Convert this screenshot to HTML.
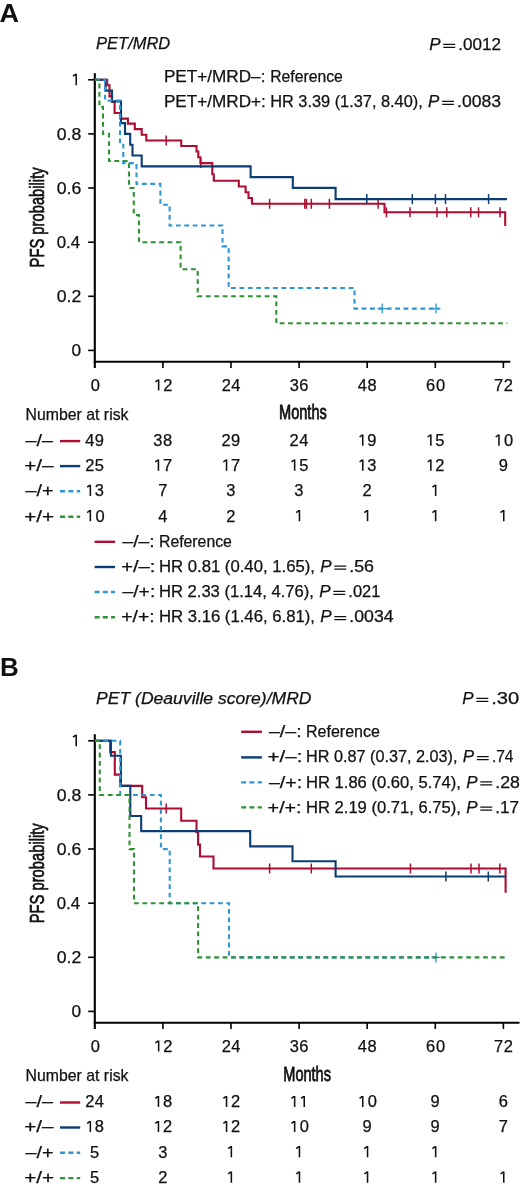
<!DOCTYPE html>
<html><head><meta charset="utf-8"><title>PFS Kaplan-Meier</title>
<style>html,body{margin:0;padding:0;background:#fff;width:520px;height:1187px;overflow:hidden}svg{display:block;will-change:transform}</style>
</head><body>
<svg width="520" height="1187" viewBox="0 0 520 1187" font-family='"Liberation Sans", sans-serif' fill="#111">
<rect width="520" height="1187" fill="#fff"/>
<path d="M443.30,44.30 H455.20 M443.30,47.30 H455.20" stroke="#111" stroke-width="1.25"/>
<path d="M442.10,101.30 H454.00 M442.10,104.30 H454.00" stroke="#111" stroke-width="1.25"/>
<path d="M94.8,73.3 V368.0" stroke="#000" stroke-width="2.1"/>
<path d="M93.8,361.8 H510.3" stroke="#000" stroke-width="2.1"/>
<path d="M88.2,350.4 H94" stroke="#000" stroke-width="1.6"/>
<path d="M88.2,296.3 H94" stroke="#000" stroke-width="1.6"/>
<path d="M88.2,242.2 H94" stroke="#000" stroke-width="1.6"/>
<path d="M88.2,188.0 H94" stroke="#000" stroke-width="1.6"/>
<path d="M88.2,133.9 H94" stroke="#000" stroke-width="1.6"/>
<path d="M88.2,79.8 H94" stroke="#000" stroke-width="1.6"/>
<path d="M76.20,73.70 V85.30 M73.00,76.20 L75.80,74.10" fill="none" stroke="#111" stroke-width="1.55"/>
<path d="M162.9,361.8 V368.0" stroke="#000" stroke-width="1.6"/>
<path d="M158.65,379.40 V390.60 M155.45,381.90 L158.25,379.80" fill="none" stroke="#111" stroke-width="1.55"/>
<path d="M231.0,361.8 V368.0" stroke="#000" stroke-width="1.6"/>
<path d="M299.1,361.8 V368.0" stroke="#000" stroke-width="1.6"/>
<path d="M367.2,361.8 V368.0" stroke="#000" stroke-width="1.6"/>
<path d="M435.3,361.8 V368.0" stroke="#000" stroke-width="1.6"/>
<path d="M503.4,361.8 V368.0" stroke="#000" stroke-width="1.6"/>
<path d="M94.8,79.8 H107.2 V85.3 H109.5 V96.4 H112.0 V101.9 H114.6 V113.0 H120.4 V118.6 H127.9 V123.6 H134.8 V129.1 H141.7 V134.8 H146.3 V140.5 H181.2 V146.0 H196.5 V151.5 H198.3 V157.3 H200.4 V163.1 H212.3 V174.2 H213.8 V180.8 H238.8 V186.5 H245.6 V192.3 H248.5 V198.0 H252.0 V203.8 H384.5 V212.3 H505.2 V226.0" fill="none" stroke="#ad0d31" stroke-width="2.1"/>
<path d="M166.2,135.5 V145.5" stroke="#ad0d31" stroke-width="1.5"/>
<path d="M200.8,158.1 V168.1" stroke="#ad0d31" stroke-width="1.5"/>
<path d="M269.6,198.8 V208.8" stroke="#ad0d31" stroke-width="1.5"/>
<path d="M304.8,198.8 V208.8" stroke="#ad0d31" stroke-width="1.5"/>
<path d="M306.4,198.8 V208.8" stroke="#ad0d31" stroke-width="1.5"/>
<path d="M311.3,198.8 V208.8" stroke="#ad0d31" stroke-width="1.5"/>
<path d="M329.4,198.8 V208.8" stroke="#ad0d31" stroke-width="1.5"/>
<path d="M378.1,198.8 V208.8" stroke="#ad0d31" stroke-width="1.5"/>
<path d="M386.4,207.3 V217.3" stroke="#ad0d31" stroke-width="1.5"/>
<path d="M410.0,207.3 V217.3" stroke="#ad0d31" stroke-width="1.5"/>
<path d="M437.0,207.3 V217.3" stroke="#ad0d31" stroke-width="1.5"/>
<path d="M446.8,207.3 V217.3" stroke="#ad0d31" stroke-width="1.5"/>
<path d="M470.8,207.3 V217.3" stroke="#ad0d31" stroke-width="1.5"/>
<path d="M478.5,207.3 V217.3" stroke="#ad0d31" stroke-width="1.5"/>
<path d="M500.0,207.3 V217.3" stroke="#ad0d31" stroke-width="1.5"/>
<path d="M94.8,79.8 H105.5 V90.6 H112.0 V101.4 H121.0 V123.1 H125.0 V133.9 H130.2 V144.7 H132.5 V155.5 H141.7 V166.4 H250.6 V177.1 H292.8 V187.9 H335.6 V199.1 H507.0" fill="none" stroke="#0b3c73" stroke-width="2.1"/>
<path d="M366.8,194.1 V204.1" stroke="#0b3c73" stroke-width="1.5"/>
<path d="M412.3,194.1 V204.1" stroke="#0b3c73" stroke-width="1.5"/>
<path d="M435.4,194.1 V204.1" stroke="#0b3c73" stroke-width="1.5"/>
<path d="M445.5,194.1 V204.1" stroke="#0b3c73" stroke-width="1.5"/>
<path d="M488.6,194.1 V204.1" stroke="#0b3c73" stroke-width="1.5"/>
<path d="M94.8,79.8 H105.0 V100.6 H120.0 V142.3 H123.3 V163.1 H136.5 V183.9 H160.4 V204.7 H169.6 V225.5 H222.5 V246.4 H228.7 V288.0 H354.5 V308.6 H439.6" fill="none" stroke="#2f96d4" stroke-width="2.1" stroke-dasharray="4.8 3.6"/>
<path d="M382.2,303.6 V313.6 M377.7,308.6 H386.7" stroke="#2f96d4" stroke-width="1.3"/>
<path d="M436.0,303.6 V313.6 M431.5,308.6 H440.5" stroke="#2f96d4" stroke-width="1.3"/>
<path d="M94.8,79.8 H99.4 V106.9 H103.0 V133.9 H109.0 V161.0 H129.0 V188.0 H133.8 V215.1 H139.0 V242.2 H180.6 V269.2 H197.7 V296.3 H276.3 V323.3 H507.2" fill="none" stroke="#2e9236" stroke-width="2.1" stroke-dasharray="4.8 3.6"/>
<path d="M60,441.1 H80.2" stroke="#ad0d31" stroke-width="2.4"/>
<path d="M362.75,434.50 V445.70 M359.55,437.00 L362.35,434.90" fill="none" stroke="#111" stroke-width="1.55"/>
<path d="M430.85,434.50 V445.70 M427.65,437.00 L430.45,434.90" fill="none" stroke="#111" stroke-width="1.55"/>
<path d="M498.95,434.50 V445.70 M495.75,437.00 L498.55,434.90" fill="none" stroke="#111" stroke-width="1.55"/>
<path d="M60,466.1 H80.2" stroke="#0b3c73" stroke-width="2.4"/>
<path d="M158.45,459.50 V470.70 M155.25,462.00 L158.05,459.90" fill="none" stroke="#111" stroke-width="1.55"/>
<path d="M226.55,459.50 V470.70 M223.35,462.00 L226.15,459.90" fill="none" stroke="#111" stroke-width="1.55"/>
<path d="M294.65,459.50 V470.70 M291.45,462.00 L294.25,459.90" fill="none" stroke="#111" stroke-width="1.55"/>
<path d="M362.75,459.50 V470.70 M359.55,462.00 L362.35,459.90" fill="none" stroke="#111" stroke-width="1.55"/>
<path d="M430.85,459.50 V470.70 M427.65,462.00 L430.45,459.90" fill="none" stroke="#111" stroke-width="1.55"/>
<path d="M60,491.3 H80.2" stroke="#2f96d4" stroke-width="2.4" stroke-dasharray="5 3.4"/>
<path d="M90.35,484.70 V495.90 M87.15,487.20 L89.95,485.10" fill="none" stroke="#111" stroke-width="1.55"/>
<path d="M435.65,484.70 V495.90 M432.45,487.20 L435.25,485.10" fill="none" stroke="#111" stroke-width="1.55"/>
<path d="M60,516.7 H80.2" stroke="#2e9236" stroke-width="2.4" stroke-dasharray="5 3.4"/>
<path d="M90.35,510.10 V521.30 M87.15,512.60 L89.95,510.50" fill="none" stroke="#111" stroke-width="1.55"/>
<path d="M299.45,510.10 V521.30 M296.25,512.60 L299.05,510.50" fill="none" stroke="#111" stroke-width="1.55"/>
<path d="M367.55,510.10 V521.30 M364.35,512.60 L367.15,510.50" fill="none" stroke="#111" stroke-width="1.55"/>
<path d="M435.65,510.10 V521.30 M432.45,512.60 L435.25,510.50" fill="none" stroke="#111" stroke-width="1.55"/>
<path d="M503.75,510.10 V521.30 M500.55,512.60 L503.35,510.50" fill="none" stroke="#111" stroke-width="1.55"/>
<path d="M94.6,541.8 H115" stroke="#ad0d31" stroke-width="2.4"/>
<path d="M94.6,567.0 H115" stroke="#0b3c73" stroke-width="2.4"/>
<path d="M334.30,566.10 H346.20 M334.30,569.10 H346.20" stroke="#111" stroke-width="1.25"/>
<path d="M94.6,592.0 H115" stroke="#2f96d4" stroke-width="2.4" stroke-dasharray="5 3.2"/>
<path d="M333.30,591.30 H345.20 M333.30,594.30 H345.20" stroke="#111" stroke-width="1.25"/>
<path d="M94.6,617.3 H115" stroke="#2e9236" stroke-width="2.4" stroke-dasharray="5 3.2"/>
<path d="M334.30,616.60 H346.20 M334.30,619.60 H346.20" stroke="#111" stroke-width="1.25"/>
<path d="M476.40,698.30 H488.30 M476.40,701.30 H488.30" stroke="#111" stroke-width="1.25"/>
<path d="M241.2,731.8 H261.9" stroke="#ad0d31" stroke-width="2.4"/>
<path d="M241.2,757.4 H261.9" stroke="#0b3c73" stroke-width="2.4"/>
<path d="M476.80,756.60 H488.70 M476.80,759.60 H488.70" stroke="#111" stroke-width="1.25"/>
<path d="M241.2,782.4 H261.9" stroke="#2f96d4" stroke-width="2.4" stroke-dasharray="5 3.2"/>
<path d="M480.30,781.90 H492.20 M480.30,784.90 H492.20" stroke="#111" stroke-width="1.25"/>
<path d="M241.2,807.4 H261.9" stroke="#2e9236" stroke-width="2.4" stroke-dasharray="5 3.2"/>
<path d="M480.30,807.20 H492.20 M480.30,810.20 H492.20" stroke="#111" stroke-width="1.25"/>
<path d="M94.8,734.3 V1029.0" stroke="#000" stroke-width="2.1"/>
<path d="M93.8,1022.8 H519.5" stroke="#000" stroke-width="2.1"/>
<path d="M88.2,1011.4 H94" stroke="#000" stroke-width="1.6"/>
<path d="M88.2,957.3 H94" stroke="#000" stroke-width="1.6"/>
<path d="M88.2,903.2 H94" stroke="#000" stroke-width="1.6"/>
<path d="M88.2,849.0 H94" stroke="#000" stroke-width="1.6"/>
<path d="M88.2,794.9 H94" stroke="#000" stroke-width="1.6"/>
<path d="M88.2,740.8 H94" stroke="#000" stroke-width="1.6"/>
<path d="M76.20,734.70 V746.30 M73.00,737.20 L75.80,735.10" fill="none" stroke="#111" stroke-width="1.55"/>
<path d="M162.9,1022.8 V1029.0" stroke="#000" stroke-width="1.6"/>
<path d="M158.65,1040.40 V1051.60 M155.45,1042.90 L158.25,1040.80" fill="none" stroke="#111" stroke-width="1.55"/>
<path d="M231.0,1022.8 V1029.0" stroke="#000" stroke-width="1.6"/>
<path d="M299.1,1022.8 V1029.0" stroke="#000" stroke-width="1.6"/>
<path d="M367.2,1022.8 V1029.0" stroke="#000" stroke-width="1.6"/>
<path d="M435.3,1022.8 V1029.0" stroke="#000" stroke-width="1.6"/>
<path d="M503.4,1022.8 V1029.0" stroke="#000" stroke-width="1.6"/>
<path d="M94.8,740.8 H110.2 V752.1 H114.8 V774.6 H120.2 V785.9 H142.2 V797.2 H146.0 V808.5 H181.2 V820.8 H196.5 V832.3 H198.1 V844.6 H200.0 V856.5 H213.5 V868.5 H505.6 V892.7" fill="none" stroke="#ad0d31" stroke-width="2.1"/>
<path d="M166.2,803.5 V813.5" stroke="#ad0d31" stroke-width="1.5"/>
<path d="M269.6,863.5 V873.5" stroke="#ad0d31" stroke-width="1.5"/>
<path d="M311.3,863.5 V873.5" stroke="#ad0d31" stroke-width="1.5"/>
<path d="M410.4,863.5 V873.5" stroke="#ad0d31" stroke-width="1.5"/>
<path d="M471.0,863.5 V873.5" stroke="#ad0d31" stroke-width="1.5"/>
<path d="M479.0,863.5 V873.5" stroke="#ad0d31" stroke-width="1.5"/>
<path d="M499.8,863.5 V873.5" stroke="#ad0d31" stroke-width="1.5"/>
<path d="M94.8,740.8 H110.9 V755.8 H120.9 V785.9 H130.3 V816.0 H141.2 V831.1 H250.2 V846.4 H292.5 V861.2 H335.6 V876.5 H506.1" fill="none" stroke="#0b3c73" stroke-width="2.1"/>
<path d="M445.9,871.5 V881.5" stroke="#0b3c73" stroke-width="1.5"/>
<path d="M488.3,871.5 V881.5" stroke="#0b3c73" stroke-width="1.5"/>
<path d="M94.8,740.8 H120.2 V795.0 H160.9 V849.1 H169.7 V903.2 H229.0 V957.4 H436.0" fill="none" stroke="#2f96d4" stroke-width="2.1" stroke-dasharray="4.8 3.6"/>
<path d="M436.0,952.4 V962.4 M431.5,957.4 H440.5" stroke="#2f96d4" stroke-width="1.3"/>
<path d="M94.8,740.8 H99.8 V795.0 H129.5 V849.1 H134.0 V903.2 H198.1 V957.4 H506.5" fill="none" stroke="#2e9236" stroke-width="2.1" stroke-dasharray="4.8 3.6"/>
<path d="M60,1102.5 H80.2" stroke="#ad0d31" stroke-width="2.4"/>
<path d="M158.45,1095.90 V1107.10 M155.25,1098.40 L158.05,1096.30" fill="none" stroke="#111" stroke-width="1.55"/>
<path d="M226.55,1095.90 V1107.10 M223.35,1098.40 L226.15,1096.30" fill="none" stroke="#111" stroke-width="1.55"/>
<path d="M294.65,1095.90 V1107.10 M291.45,1098.40 L294.25,1096.30" fill="none" stroke="#111" stroke-width="1.55"/>
<path d="M304.25,1095.90 V1107.10 M301.05,1098.40 L303.85,1096.30" fill="none" stroke="#111" stroke-width="1.55"/>
<path d="M362.75,1095.90 V1107.10 M359.55,1098.40 L362.35,1096.30" fill="none" stroke="#111" stroke-width="1.55"/>
<path d="M60,1127.5 H80.2" stroke="#0b3c73" stroke-width="2.4"/>
<path d="M90.35,1120.90 V1132.10 M87.15,1123.40 L89.95,1121.30" fill="none" stroke="#111" stroke-width="1.55"/>
<path d="M158.45,1120.90 V1132.10 M155.25,1123.40 L158.05,1121.30" fill="none" stroke="#111" stroke-width="1.55"/>
<path d="M226.55,1120.90 V1132.10 M223.35,1123.40 L226.15,1121.30" fill="none" stroke="#111" stroke-width="1.55"/>
<path d="M294.65,1120.90 V1132.10 M291.45,1123.40 L294.25,1121.30" fill="none" stroke="#111" stroke-width="1.55"/>
<path d="M60,1152.7 H80.2" stroke="#2f96d4" stroke-width="2.4" stroke-dasharray="5 3.4"/>
<path d="M231.35,1146.10 V1157.30 M228.15,1148.60 L230.95,1146.50" fill="none" stroke="#111" stroke-width="1.55"/>
<path d="M299.45,1146.10 V1157.30 M296.25,1148.60 L299.05,1146.50" fill="none" stroke="#111" stroke-width="1.55"/>
<path d="M367.55,1146.10 V1157.30 M364.35,1148.60 L367.15,1146.50" fill="none" stroke="#111" stroke-width="1.55"/>
<path d="M435.65,1146.10 V1157.30 M432.45,1148.60 L435.25,1146.50" fill="none" stroke="#111" stroke-width="1.55"/>
<path d="M60,1178.1 H80.2" stroke="#2e9236" stroke-width="2.4" stroke-dasharray="5 3.4"/>
<path d="M231.35,1171.50 V1182.70 M228.15,1174.00 L230.95,1171.90" fill="none" stroke="#111" stroke-width="1.55"/>
<path d="M299.45,1171.50 V1182.70 M296.25,1174.00 L299.05,1171.90" fill="none" stroke="#111" stroke-width="1.55"/>
<path d="M367.55,1171.50 V1182.70 M364.35,1174.00 L367.15,1171.90" fill="none" stroke="#111" stroke-width="1.55"/>
<path d="M435.65,1171.50 V1182.70 M432.45,1174.00 L435.25,1171.90" fill="none" stroke="#111" stroke-width="1.55"/>
<path d="M503.75,1171.50 V1182.70 M500.55,1174.00 L503.35,1171.90" fill="none" stroke="#111" stroke-width="1.55"/>
<text x="-0.48" y="21.90" font-size="25.00" font-weight="bold" textLength="19.53" lengthAdjust="spacingAndGlyphs">A</text>
<text x="96.10" y="49.40" font-size="15.70" font-style="italic" textLength="74.12" lengthAdjust="spacingAndGlyphs" stroke="#111" stroke-width="0.25">PET/MRD</text>
<text x="429.20" y="49.90" font-size="15.70" font-style="italic" textLength="11.31" lengthAdjust="spacingAndGlyphs" stroke="#111" stroke-width="0.25">P</text>
<text x="458.31" y="49.90" font-size="15.70" textLength="42.78" lengthAdjust="spacingAndGlyphs" stroke="#111" stroke-width="0.25">.0012</text>
<text x="163.91" y="81.90" font-size="15.70" textLength="101.52" lengthAdjust="spacingAndGlyphs" stroke="#111" stroke-width="0.25">PET+/MRD–:</text>
<text x="270.20" y="81.90" font-size="15.70" textLength="72.70" lengthAdjust="spacingAndGlyphs" stroke="#111" stroke-width="0.25">Reference</text>
<text x="163.91" y="106.90" font-size="15.70" textLength="101.99" lengthAdjust="spacingAndGlyphs" stroke="#111" stroke-width="0.25">PET+/MRD+:</text>
<text x="270.16" y="106.90" font-size="15.70" textLength="152.60" lengthAdjust="spacingAndGlyphs" stroke="#111" stroke-width="0.25">HR 3.39 (1.37, 8.40),</text>
<text x="428.00" y="106.90" font-size="15.70" font-style="italic" textLength="11.31" lengthAdjust="spacingAndGlyphs" stroke="#111" stroke-width="0.25">P</text>
<text x="457.08" y="106.90" font-size="15.70" textLength="44.02" lengthAdjust="spacingAndGlyphs" stroke="#111" stroke-width="0.25">.0083</text>
<text x="71.40" y="356.40" font-size="15.70" textLength="9.61" lengthAdjust="spacingAndGlyphs" stroke="#111" stroke-width="0.25">0</text>
<text x="56.70" y="302.28" font-size="15.70" textLength="24.51" lengthAdjust="spacingAndGlyphs" stroke="#111" stroke-width="0.25">0.2</text>
<text x="56.70" y="248.16" font-size="15.70" textLength="23.40" lengthAdjust="spacingAndGlyphs" stroke="#111" stroke-width="0.25">0.4</text>
<text x="56.70" y="194.04" font-size="15.70" textLength="24.51" lengthAdjust="spacingAndGlyphs" stroke="#111" stroke-width="0.25">0.6</text>
<text x="56.70" y="139.92" font-size="15.70" textLength="24.51" lengthAdjust="spacingAndGlyphs" stroke="#111" stroke-width="0.25">0.8</text>
<text x="90.80" y="390.90" font-size="15.70" textLength="9.17" lengthAdjust="spacingAndGlyphs" stroke="#111" stroke-width="0.25">0</text>
<text x="163.17" y="390.90" font-size="15.70" textLength="9.17" lengthAdjust="spacingAndGlyphs" stroke="#111" stroke-width="0.25">2</text>
<text x="221.67" y="390.90" font-size="15.70" textLength="9.17" lengthAdjust="spacingAndGlyphs" stroke="#111" stroke-width="0.25">2</text>
<text x="231.28" y="390.90" font-size="15.70" textLength="9.17" lengthAdjust="spacingAndGlyphs" stroke="#111" stroke-width="0.25">4</text>
<text x="289.77" y="390.90" font-size="15.70" textLength="9.17" lengthAdjust="spacingAndGlyphs" stroke="#111" stroke-width="0.25">3</text>
<text x="299.37" y="390.90" font-size="15.70" textLength="9.17" lengthAdjust="spacingAndGlyphs" stroke="#111" stroke-width="0.25">6</text>
<text x="357.87" y="390.90" font-size="15.70" textLength="9.17" lengthAdjust="spacingAndGlyphs" stroke="#111" stroke-width="0.25">4</text>
<text x="367.47" y="390.90" font-size="15.70" textLength="9.17" lengthAdjust="spacingAndGlyphs" stroke="#111" stroke-width="0.25">8</text>
<text x="425.97" y="390.90" font-size="15.70" textLength="9.17" lengthAdjust="spacingAndGlyphs" stroke="#111" stroke-width="0.25">6</text>
<text x="436.10" y="390.90" font-size="15.70" textLength="9.17" lengthAdjust="spacingAndGlyphs" stroke="#111" stroke-width="0.25">0</text>
<text x="494.07" y="390.90" font-size="15.70" textLength="9.17" lengthAdjust="spacingAndGlyphs" stroke="#111" stroke-width="0.25">7</text>
<text x="503.67" y="390.90" font-size="15.70" textLength="9.17" lengthAdjust="spacingAndGlyphs" stroke="#111" stroke-width="0.25">2</text>
<text transform="translate(44.00,267.44) rotate(-90)" x="0" y="0" font-size="20.50" textLength="100.05" lengthAdjust="spacingAndGlyphs" stroke="#111" stroke-width="0.70">PFS probability</text>
<text x="279.07" y="419.40" font-size="19.80" textLength="47.68" lengthAdjust="spacingAndGlyphs" stroke="#111" stroke-width="0.80">Months</text>
<text x="25.59" y="419.80" font-size="15.70" textLength="102.91" lengthAdjust="spacingAndGlyphs" stroke="#111" stroke-width="0.25">Number at risk</text>
<text x="25.50" y="446.00" font-size="15.70" textLength="27.46" lengthAdjust="spacingAndGlyphs" stroke="#111" stroke-width="0.25">–/–</text>
<text x="85.28" y="446.00" font-size="15.70" textLength="9.17" lengthAdjust="spacingAndGlyphs" stroke="#111" stroke-width="0.25">4</text>
<text x="94.88" y="446.00" font-size="15.70" textLength="9.17" lengthAdjust="spacingAndGlyphs" stroke="#111" stroke-width="0.25">9</text>
<text x="153.37" y="446.00" font-size="15.70" textLength="9.17" lengthAdjust="spacingAndGlyphs" stroke="#111" stroke-width="0.25">3</text>
<text x="162.97" y="446.00" font-size="15.70" textLength="9.17" lengthAdjust="spacingAndGlyphs" stroke="#111" stroke-width="0.25">8</text>
<text x="221.47" y="446.00" font-size="15.70" textLength="9.17" lengthAdjust="spacingAndGlyphs" stroke="#111" stroke-width="0.25">2</text>
<text x="231.07" y="446.00" font-size="15.70" textLength="9.17" lengthAdjust="spacingAndGlyphs" stroke="#111" stroke-width="0.25">9</text>
<text x="289.57" y="446.00" font-size="15.70" textLength="9.17" lengthAdjust="spacingAndGlyphs" stroke="#111" stroke-width="0.25">2</text>
<text x="299.17" y="446.00" font-size="15.70" textLength="9.17" lengthAdjust="spacingAndGlyphs" stroke="#111" stroke-width="0.25">4</text>
<text x="367.27" y="446.00" font-size="15.70" textLength="9.17" lengthAdjust="spacingAndGlyphs" stroke="#111" stroke-width="0.25">9</text>
<text x="435.38" y="446.00" font-size="15.70" textLength="9.17" lengthAdjust="spacingAndGlyphs" stroke="#111" stroke-width="0.25">5</text>
<text x="504.00" y="446.00" font-size="15.70" textLength="9.17" lengthAdjust="spacingAndGlyphs" stroke="#111" stroke-width="0.25">0</text>
<text x="24.18" y="471.00" font-size="15.70" textLength="29.35" lengthAdjust="spacingAndGlyphs" stroke="#111" stroke-width="0.25">+/–</text>
<text x="85.28" y="471.00" font-size="15.70" textLength="9.17" lengthAdjust="spacingAndGlyphs" stroke="#111" stroke-width="0.25">2</text>
<text x="94.88" y="471.00" font-size="15.70" textLength="9.17" lengthAdjust="spacingAndGlyphs" stroke="#111" stroke-width="0.25">5</text>
<text x="162.97" y="471.00" font-size="15.70" textLength="9.17" lengthAdjust="spacingAndGlyphs" stroke="#111" stroke-width="0.25">7</text>
<text x="231.07" y="471.00" font-size="15.70" textLength="9.17" lengthAdjust="spacingAndGlyphs" stroke="#111" stroke-width="0.25">7</text>
<text x="299.17" y="471.00" font-size="15.70" textLength="9.17" lengthAdjust="spacingAndGlyphs" stroke="#111" stroke-width="0.25">5</text>
<text x="367.27" y="471.00" font-size="15.70" textLength="9.17" lengthAdjust="spacingAndGlyphs" stroke="#111" stroke-width="0.25">3</text>
<text x="435.38" y="471.00" font-size="15.70" textLength="9.17" lengthAdjust="spacingAndGlyphs" stroke="#111" stroke-width="0.25">2</text>
<text x="498.67" y="471.00" font-size="15.70" textLength="9.17" lengthAdjust="spacingAndGlyphs" stroke="#111" stroke-width="0.25">9</text>
<text x="25.50" y="496.20" font-size="15.70" textLength="28.01" lengthAdjust="spacingAndGlyphs" stroke="#111" stroke-width="0.25">–/+</text>
<text x="94.88" y="496.20" font-size="15.70" textLength="9.17" lengthAdjust="spacingAndGlyphs" stroke="#111" stroke-width="0.25">3</text>
<text x="158.17" y="496.20" font-size="15.70" textLength="9.17" lengthAdjust="spacingAndGlyphs" stroke="#111" stroke-width="0.25">7</text>
<text x="226.27" y="496.20" font-size="15.70" textLength="9.17" lengthAdjust="spacingAndGlyphs" stroke="#111" stroke-width="0.25">3</text>
<text x="294.37" y="496.20" font-size="15.70" textLength="9.17" lengthAdjust="spacingAndGlyphs" stroke="#111" stroke-width="0.25">3</text>
<text x="362.47" y="496.20" font-size="15.70" textLength="9.17" lengthAdjust="spacingAndGlyphs" stroke="#111" stroke-width="0.25">2</text>
<text x="24.18" y="521.60" font-size="15.70" textLength="29.93" lengthAdjust="spacingAndGlyphs" stroke="#111" stroke-width="0.25">+/+</text>
<text x="95.40" y="521.60" font-size="15.70" textLength="9.17" lengthAdjust="spacingAndGlyphs" stroke="#111" stroke-width="0.25">0</text>
<text x="158.17" y="521.60" font-size="15.70" textLength="9.17" lengthAdjust="spacingAndGlyphs" stroke="#111" stroke-width="0.25">4</text>
<text x="226.27" y="521.60" font-size="15.70" textLength="9.17" lengthAdjust="spacingAndGlyphs" stroke="#111" stroke-width="0.25">2</text>
<text x="122.50" y="546.50" font-size="15.70" textLength="32.24" lengthAdjust="spacingAndGlyphs" stroke="#111" stroke-width="0.25">–/–:</text>
<text x="158.99" y="546.50" font-size="15.70" textLength="72.90" lengthAdjust="spacingAndGlyphs" stroke="#111" stroke-width="0.25">Reference</text>
<text x="121.22" y="571.70" font-size="15.70" textLength="34.15" lengthAdjust="spacingAndGlyphs" stroke="#111" stroke-width="0.25">+/–:</text>
<text x="158.93" y="571.70" font-size="15.70" textLength="156.06" lengthAdjust="spacingAndGlyphs" stroke="#111" stroke-width="0.25">HR 0.81 (0.40, 1.65),</text>
<text x="320.20" y="571.70" font-size="15.70" font-style="italic" textLength="11.31" lengthAdjust="spacingAndGlyphs" stroke="#111" stroke-width="0.25">P</text>
<text x="349.26" y="571.70" font-size="15.70" textLength="24.76" lengthAdjust="spacingAndGlyphs" stroke="#111" stroke-width="0.25">.56</text>
<text x="122.50" y="596.90" font-size="15.70" textLength="32.78" lengthAdjust="spacingAndGlyphs" stroke="#111" stroke-width="0.25">–/+:</text>
<text x="158.94" y="596.90" font-size="15.70" textLength="155.05" lengthAdjust="spacingAndGlyphs" stroke="#111" stroke-width="0.25">HR 2.33 (1.14, 4.76),</text>
<text x="319.20" y="596.90" font-size="15.70" font-style="italic" textLength="11.31" lengthAdjust="spacingAndGlyphs" stroke="#111" stroke-width="0.25">P</text>
<text x="348.35" y="596.90" font-size="15.70" textLength="32.02" lengthAdjust="spacingAndGlyphs" stroke="#111" stroke-width="0.25">.021</text>
<text x="121.27" y="622.20" font-size="15.70" textLength="33.32" lengthAdjust="spacingAndGlyphs" stroke="#111" stroke-width="0.25">+/+:</text>
<text x="158.93" y="622.20" font-size="15.70" textLength="156.06" lengthAdjust="spacingAndGlyphs" stroke="#111" stroke-width="0.25">HR 3.16 (1.46, 6.81),</text>
<text x="320.20" y="622.20" font-size="15.70" font-style="italic" textLength="11.31" lengthAdjust="spacingAndGlyphs" stroke="#111" stroke-width="0.25">P</text>
<text x="349.27" y="622.20" font-size="15.70" textLength="44.33" lengthAdjust="spacingAndGlyphs" stroke="#111" stroke-width="0.25">.0034</text>
<text x="-0.08" y="675.90" font-size="25.00" font-weight="bold" textLength="18.79" lengthAdjust="spacingAndGlyphs">B</text>
<text x="96.10" y="704.30" font-size="16.30" font-style="italic" textLength="215.45" lengthAdjust="spacingAndGlyphs" stroke="#111" stroke-width="0.25">PET (Deauville score)/MRD</text>
<text x="462.30" y="703.90" font-size="15.70" font-style="italic" textLength="11.31" lengthAdjust="spacingAndGlyphs" stroke="#111" stroke-width="0.25">P</text>
<text x="491.21" y="703.90" font-size="15.70" textLength="28.03" lengthAdjust="spacingAndGlyphs" stroke="#111" stroke-width="0.25">.30</text>
<text x="268.90" y="737.20" font-size="15.70" textLength="32.87" lengthAdjust="spacingAndGlyphs" stroke="#111" stroke-width="0.25">–/–:</text>
<text x="305.98" y="737.20" font-size="15.70" textLength="73.92" lengthAdjust="spacingAndGlyphs" stroke="#111" stroke-width="0.25">Reference</text>
<text x="267.59" y="762.20" font-size="15.70" textLength="34.81" lengthAdjust="spacingAndGlyphs" stroke="#111" stroke-width="0.25">+/–:</text>
<text x="305.97" y="762.20" font-size="15.70" textLength="151.49" lengthAdjust="spacingAndGlyphs" stroke="#111" stroke-width="0.25">HR 0.87 (0.37, 2.03),</text>
<text x="462.70" y="762.20" font-size="15.70" font-style="italic" textLength="11.31" lengthAdjust="spacingAndGlyphs" stroke="#111" stroke-width="0.25">P</text>
<text x="491.91" y="762.20" font-size="15.70" textLength="21.60" lengthAdjust="spacingAndGlyphs" stroke="#111" stroke-width="0.25">.74</text>
<text x="268.90" y="787.50" font-size="15.70" textLength="33.42" lengthAdjust="spacingAndGlyphs" stroke="#111" stroke-width="0.25">–/+:</text>
<text x="305.94" y="787.50" font-size="15.70" textLength="155.05" lengthAdjust="spacingAndGlyphs" stroke="#111" stroke-width="0.25">HR 1.86 (0.60, 5.74),</text>
<text x="466.20" y="787.50" font-size="15.70" font-style="italic" textLength="11.31" lengthAdjust="spacingAndGlyphs" stroke="#111" stroke-width="0.25">P</text>
<text x="495.27" y="787.50" font-size="15.70" textLength="24.65" lengthAdjust="spacingAndGlyphs" stroke="#111" stroke-width="0.25">.28</text>
<text x="267.64" y="812.80" font-size="15.70" textLength="33.97" lengthAdjust="spacingAndGlyphs" stroke="#111" stroke-width="0.25">+/+:</text>
<text x="305.94" y="812.80" font-size="15.70" textLength="155.05" lengthAdjust="spacingAndGlyphs" stroke="#111" stroke-width="0.25">HR 2.19 (0.71, 6.75),</text>
<text x="466.20" y="812.80" font-size="15.70" font-style="italic" textLength="11.31" lengthAdjust="spacingAndGlyphs" stroke="#111" stroke-width="0.25">P</text>
<text x="495.30" y="812.80" font-size="15.70" textLength="23.88" lengthAdjust="spacingAndGlyphs" stroke="#111" stroke-width="0.25">.17</text>
<text x="71.40" y="1017.40" font-size="15.70" textLength="9.61" lengthAdjust="spacingAndGlyphs" stroke="#111" stroke-width="0.25">0</text>
<text x="56.70" y="963.28" font-size="15.70" textLength="24.51" lengthAdjust="spacingAndGlyphs" stroke="#111" stroke-width="0.25">0.2</text>
<text x="56.70" y="909.16" font-size="15.70" textLength="23.40" lengthAdjust="spacingAndGlyphs" stroke="#111" stroke-width="0.25">0.4</text>
<text x="56.70" y="855.04" font-size="15.70" textLength="24.51" lengthAdjust="spacingAndGlyphs" stroke="#111" stroke-width="0.25">0.6</text>
<text x="56.70" y="800.92" font-size="15.70" textLength="24.51" lengthAdjust="spacingAndGlyphs" stroke="#111" stroke-width="0.25">0.8</text>
<text x="90.80" y="1051.90" font-size="15.70" textLength="9.17" lengthAdjust="spacingAndGlyphs" stroke="#111" stroke-width="0.25">0</text>
<text x="163.17" y="1051.90" font-size="15.70" textLength="9.17" lengthAdjust="spacingAndGlyphs" stroke="#111" stroke-width="0.25">2</text>
<text x="221.67" y="1051.90" font-size="15.70" textLength="9.17" lengthAdjust="spacingAndGlyphs" stroke="#111" stroke-width="0.25">2</text>
<text x="231.28" y="1051.90" font-size="15.70" textLength="9.17" lengthAdjust="spacingAndGlyphs" stroke="#111" stroke-width="0.25">4</text>
<text x="289.77" y="1051.90" font-size="15.70" textLength="9.17" lengthAdjust="spacingAndGlyphs" stroke="#111" stroke-width="0.25">3</text>
<text x="299.37" y="1051.90" font-size="15.70" textLength="9.17" lengthAdjust="spacingAndGlyphs" stroke="#111" stroke-width="0.25">6</text>
<text x="357.87" y="1051.90" font-size="15.70" textLength="9.17" lengthAdjust="spacingAndGlyphs" stroke="#111" stroke-width="0.25">4</text>
<text x="367.47" y="1051.90" font-size="15.70" textLength="9.17" lengthAdjust="spacingAndGlyphs" stroke="#111" stroke-width="0.25">8</text>
<text x="425.97" y="1051.90" font-size="15.70" textLength="9.17" lengthAdjust="spacingAndGlyphs" stroke="#111" stroke-width="0.25">6</text>
<text x="436.10" y="1051.90" font-size="15.70" textLength="9.17" lengthAdjust="spacingAndGlyphs" stroke="#111" stroke-width="0.25">0</text>
<text x="494.07" y="1051.90" font-size="15.70" textLength="9.17" lengthAdjust="spacingAndGlyphs" stroke="#111" stroke-width="0.25">7</text>
<text x="503.67" y="1051.90" font-size="15.70" textLength="9.17" lengthAdjust="spacingAndGlyphs" stroke="#111" stroke-width="0.25">2</text>
<text transform="translate(44.00,923.34) rotate(-90)" x="0" y="0" font-size="20.50" textLength="100.05" lengthAdjust="spacingAndGlyphs" stroke="#111" stroke-width="0.70">PFS probability</text>
<text x="283.27" y="1080.80" font-size="19.80" textLength="47.68" lengthAdjust="spacingAndGlyphs" stroke="#111" stroke-width="0.80">Months</text>
<text x="25.59" y="1081.20" font-size="15.70" textLength="102.91" lengthAdjust="spacingAndGlyphs" stroke="#111" stroke-width="0.25">Number at risk</text>
<text x="25.50" y="1107.40" font-size="15.70" textLength="27.46" lengthAdjust="spacingAndGlyphs" stroke="#111" stroke-width="0.25">–/–</text>
<text x="85.28" y="1107.40" font-size="15.70" textLength="9.17" lengthAdjust="spacingAndGlyphs" stroke="#111" stroke-width="0.25">2</text>
<text x="94.88" y="1107.40" font-size="15.70" textLength="9.17" lengthAdjust="spacingAndGlyphs" stroke="#111" stroke-width="0.25">4</text>
<text x="162.97" y="1107.40" font-size="15.70" textLength="9.17" lengthAdjust="spacingAndGlyphs" stroke="#111" stroke-width="0.25">8</text>
<text x="231.07" y="1107.40" font-size="15.70" textLength="9.17" lengthAdjust="spacingAndGlyphs" stroke="#111" stroke-width="0.25">2</text>
<text x="367.80" y="1107.40" font-size="15.70" textLength="9.17" lengthAdjust="spacingAndGlyphs" stroke="#111" stroke-width="0.25">0</text>
<text x="430.57" y="1107.40" font-size="15.70" textLength="9.17" lengthAdjust="spacingAndGlyphs" stroke="#111" stroke-width="0.25">9</text>
<text x="498.67" y="1107.40" font-size="15.70" textLength="9.17" lengthAdjust="spacingAndGlyphs" stroke="#111" stroke-width="0.25">6</text>
<text x="24.18" y="1132.40" font-size="15.70" textLength="29.35" lengthAdjust="spacingAndGlyphs" stroke="#111" stroke-width="0.25">+/–</text>
<text x="94.88" y="1132.40" font-size="15.70" textLength="9.17" lengthAdjust="spacingAndGlyphs" stroke="#111" stroke-width="0.25">8</text>
<text x="162.97" y="1132.40" font-size="15.70" textLength="9.17" lengthAdjust="spacingAndGlyphs" stroke="#111" stroke-width="0.25">2</text>
<text x="231.07" y="1132.40" font-size="15.70" textLength="9.17" lengthAdjust="spacingAndGlyphs" stroke="#111" stroke-width="0.25">2</text>
<text x="299.70" y="1132.40" font-size="15.70" textLength="9.17" lengthAdjust="spacingAndGlyphs" stroke="#111" stroke-width="0.25">0</text>
<text x="362.47" y="1132.40" font-size="15.70" textLength="9.17" lengthAdjust="spacingAndGlyphs" stroke="#111" stroke-width="0.25">9</text>
<text x="430.57" y="1132.40" font-size="15.70" textLength="9.17" lengthAdjust="spacingAndGlyphs" stroke="#111" stroke-width="0.25">9</text>
<text x="498.67" y="1132.40" font-size="15.70" textLength="9.17" lengthAdjust="spacingAndGlyphs" stroke="#111" stroke-width="0.25">7</text>
<text x="25.50" y="1157.60" font-size="15.70" textLength="28.01" lengthAdjust="spacingAndGlyphs" stroke="#111" stroke-width="0.25">–/+</text>
<text x="90.08" y="1157.60" font-size="15.70" textLength="9.17" lengthAdjust="spacingAndGlyphs" stroke="#111" stroke-width="0.25">5</text>
<text x="158.17" y="1157.60" font-size="15.70" textLength="9.17" lengthAdjust="spacingAndGlyphs" stroke="#111" stroke-width="0.25">3</text>
<text x="24.18" y="1183.00" font-size="15.70" textLength="29.93" lengthAdjust="spacingAndGlyphs" stroke="#111" stroke-width="0.25">+/+</text>
<text x="90.08" y="1183.00" font-size="15.70" textLength="9.17" lengthAdjust="spacingAndGlyphs" stroke="#111" stroke-width="0.25">5</text>
<text x="158.17" y="1183.00" font-size="15.70" textLength="9.17" lengthAdjust="spacingAndGlyphs" stroke="#111" stroke-width="0.25">2</text>
</svg>
</body></html>
